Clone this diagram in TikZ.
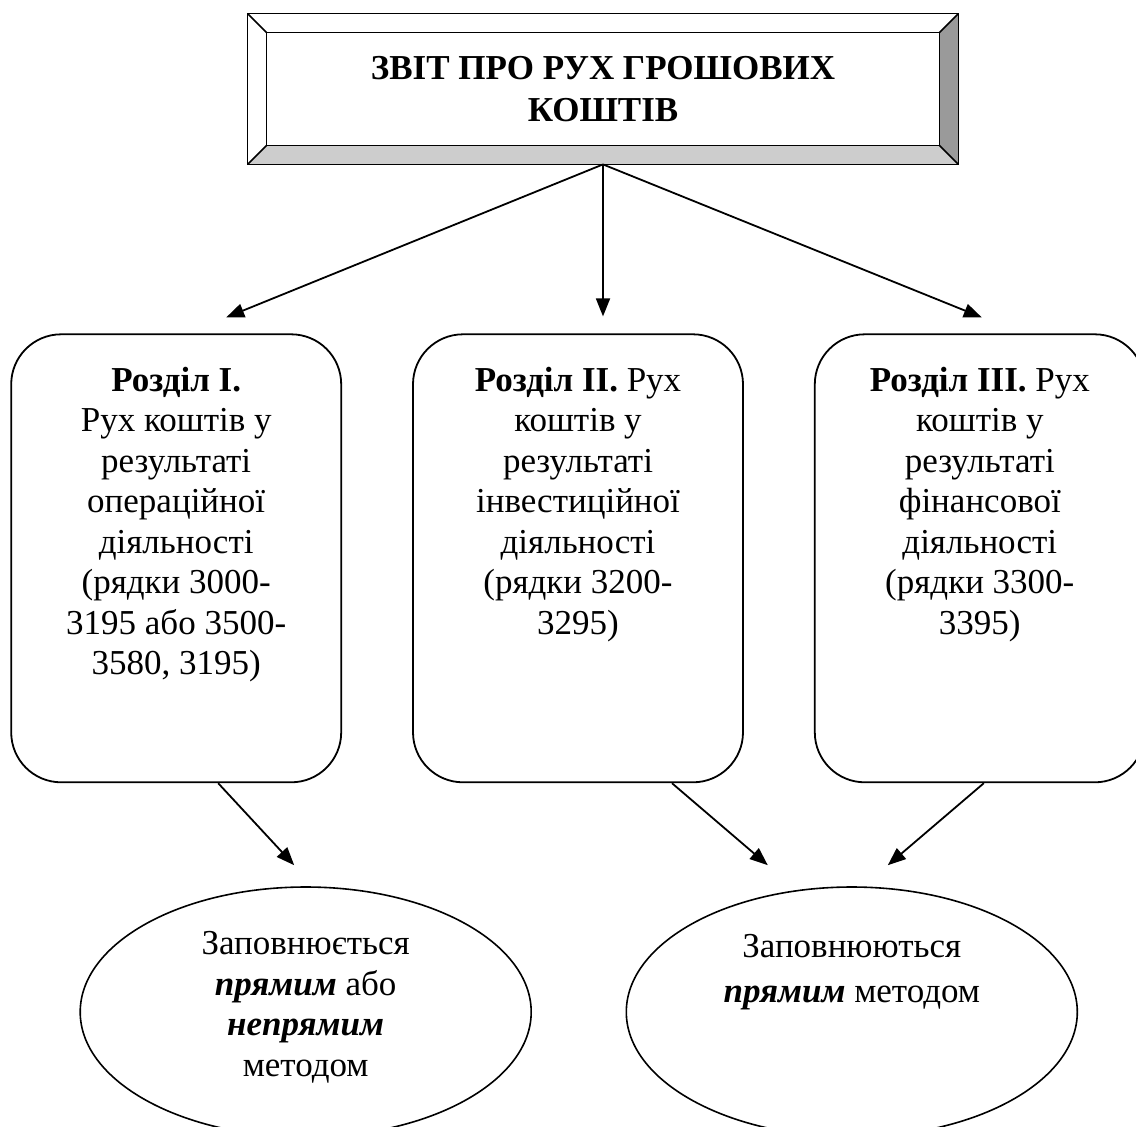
\documentclass[tikz,border=0pt]{standalone}
\usepackage{fontspec}
\setmainfont{Liberation Serif}
\usepackage{tikz}
\usetikzlibrary{positioning,arrows.meta,calc,shapes.geometric}
\definecolor{bevR}{HTML}{9A9A9A}
\definecolor{bevB}{HTML}{CDCDCD}
\tikzset{
  arr/.style={-{Triangle[length=9pt,width=7pt]}, line width=0.9pt},
  sect/.style={draw, line width=0.9pt, rounded corners=25pt, minimum width=165pt, minimum height=224pt},
  oval/.style={draw, ellipse, line width=0.8pt, minimum width=225.5pt, minimum height=125pt, inner sep=0pt},
  txt/.style={align=center, inner sep=0pt, font=\fontsize{17.5pt}{20.25pt}\selectfont},
  bev/.style={line width=0.8pt},
}

\begin{document}
\begin{tikzpicture}[node distance=84.5pt and 35pt]
  \useasboundingbox (0,0) rectangle (568pt,-563pt);
  % title with bevelled frame
  \node[txt, font=\fontsize{17.5pt}{21pt}\selectfont\bfseries, minimum width=355pt, minimum height=75pt] (zvit) at (301.5pt,-44.5pt) {ЗВІТ ПРО РУХ ГРОШОВИХ\\КОШТІВ};
  \fill[bevR] (zvit.north east) -- (zvit.south east) -- ([shift={(-9.5pt,9.5pt)}]zvit.south east) -- ([shift={(-9.5pt,-9.5pt)}]zvit.north east) -- cycle;
  \fill[bevB] (zvit.south west) -- (zvit.south east) -- ([shift={(-9.5pt,9.5pt)}]zvit.south east) -- ([shift={(9.5pt,9.5pt)}]zvit.south west) -- cycle;
  \draw[bev] (zvit.south west) rectangle (zvit.north east);
  \draw[bev] ([shift={(9.5pt,9.5pt)}]zvit.south west) rectangle ([shift={(-9.5pt,-9.5pt)}]zvit.north east);
  \draw[bev] (zvit.south west) -- ++(9.5pt,9.5pt) (zvit.south east) -- ++(-9.5pt,9.5pt)
             (zvit.north west) -- ++(9.5pt,-9.5pt) (zvit.north east) -- ++(-9.5pt,-9.5pt);
  % three sections
  \node[sect, below=of zvit, xshift=-12.5pt] (s2) {};
  \node[sect, left=of s2] (s1) {};
  \node[sect, right=of s2] (s3) {};
  \node[txt, below=16.5pt of s1.north] (t1) {\textbf{Розділ I.}\\Рух коштів у\\результаті\\операційної\\діяльності\\(рядки 3000-\\3195 або 3500-\\3580, 3195)};
  \node[txt, below=16.5pt of s2.north] (t2) {\textbf{Розділ II.} Рух\\коштів у\\результаті\\інвестиційної\\діяльності\\(рядки 3200-\\3295)};
  \node[txt, below=16.5pt of s3.north] (t3) {\textbf{Розділ III.} Рух\\коштів у\\результаті\\фінансової\\діяльності\\(рядки 3300-\\3395)};
  % methods
  \node[oval, below=51.5pt of s1, xshift=64.75pt] (e1) {};
  \node[oval, below=51.5pt of s3, xshift=-64pt] (e2) {};
  \node[txt, yshift=2.25pt] (m1) at (e1) {Заповнюється\\\textbf{\textit{прямим}} або\\\textbf{\textit{непрямим}}\\методом};
  \node[txt, yshift=20pt] (m2) at (e2) {Заповнюються\\[2pt]\textbf{\textit{прямим}} методом};
  % arrow tips
  \coordinate (a1) at ([xshift=25pt,yshift=8pt]s1.north);
  \coordinate (a2) at ($(zvit.south |- s2.north)+(0,8.5pt)$);
  \coordinate (a3) at ([xshift=1pt,yshift=8pt]s3.north);
  \coordinate (b1) at ([xshift=-5.75pt,yshift=10.5pt]e1.north);
  \coordinate (b2) at ([xshift=-42pt,yshift=10.5pt]e2.north);
  \coordinate (b3) at ([xshift=18pt,yshift=10.5pt]e2.north);
  \foreach \t in {a1,a2,a3} \draw[arr] (zvit.south) -- (\t);
  \draw[arr] ([xshift=21pt]s1.south) -- (b1);
  \draw[arr] ([xshift=47pt]s2.south) -- (b2);
  \draw[arr] ([xshift=2pt]s3.south) -- (b3);
\end{tikzpicture}
\end{document}
